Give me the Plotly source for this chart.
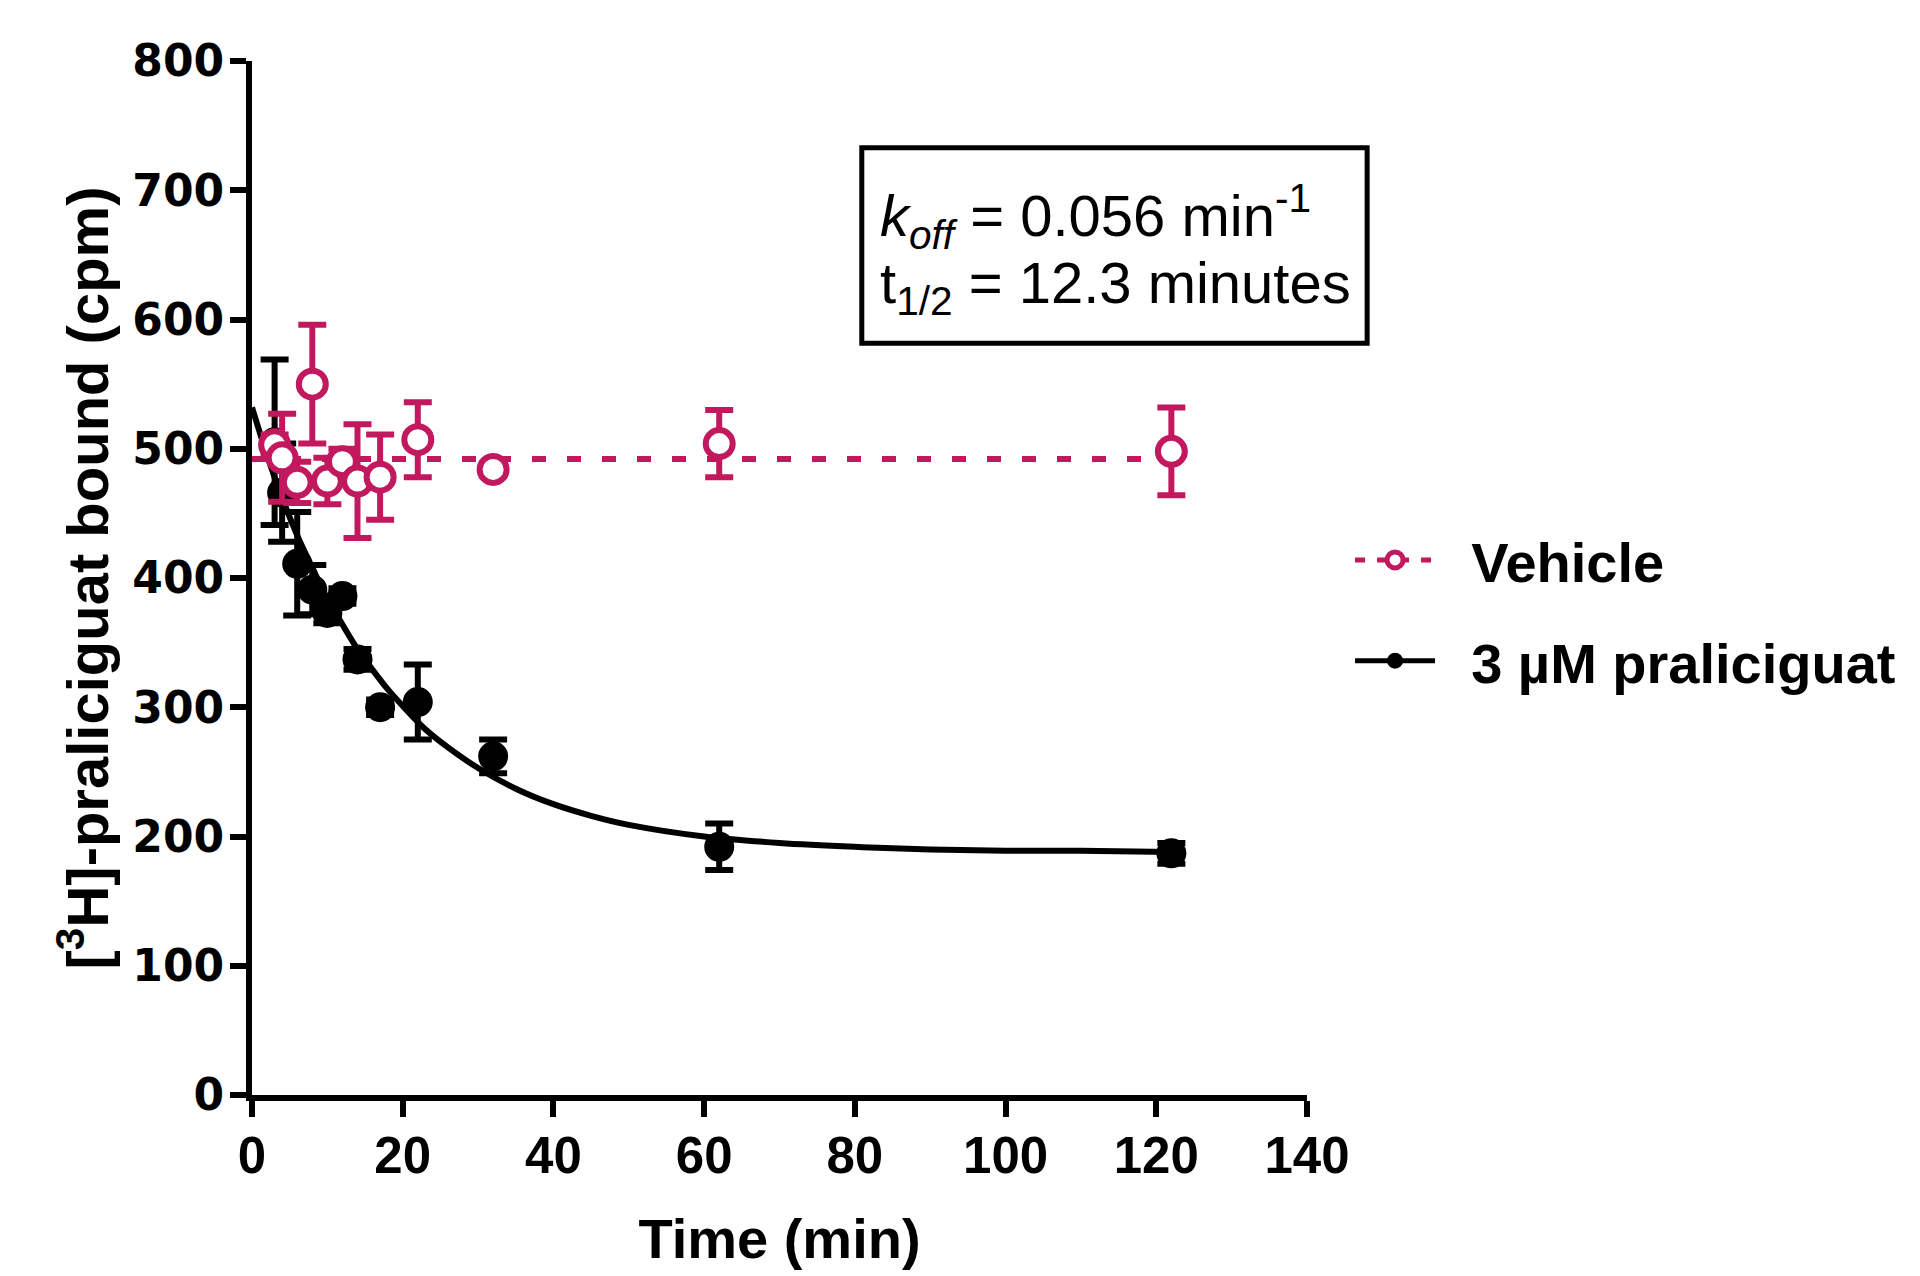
import plotly.graph_objects as go

# ---- data ----
time_min = [3, 4, 6, 8, 10, 12, 14, 17, 22, 32, 62, 122]
vehicle_mean = [503, 493, 474, 550, 475, 490, 475, 478, 507, 484, 504, 498]
vehicle_sem = [8, 34, 16, 46, 18, 10, 44, 33, 29, 5, 26, 34]
pral_mean = [505, 466, 411, 391, 373, 386, 337, 300, 304, 262, 192, 187]
pral_sem = [64, 38, 40, 19, 8, 6, 8, 6, 29, 13, 18, 8]

# fitted one-phase decay curve
fit_time = [0, 2, 4, 6, 8, 10, 12, 14, 16, 18, 20, 23, 26, 30, 35, 40, 45, 50, 60, 70, 80, 90, 100, 110, 122]
fit_pral = [532, 495, 462, 433, 408, 384, 364, 345, 329, 314, 301, 283, 269, 253, 237, 225, 216, 209, 200, 195, 192, 190, 189, 189, 188]
fit_vehicle_time = [0, 122]
fit_vehicle = [492, 492]

x_ticks = [0, 20, 40, 60, 80, 100, 120, 140]
y_ticks = [0, 100, 200, 300, 400, 500, 600, 700, 800]

PINK = "#C2195E"
BLACK = "#000000"
NB = "\u00a0"

fig = go.Figure()

# praliciguat fit
fig.add_trace(go.Scatter(x=fit_time, y=fit_pral, mode="lines", line=dict(color=BLACK, width=6, shape="spline"),
                         showlegend=False, hoverinfo="skip"))
# praliciguat points
fig.add_trace(go.Scatter(x=time_min, y=pral_mean, mode="markers",
                         marker=dict(color=BLACK, size=30, line=dict(width=0)),
                         error_y=dict(type="data", array=pral_sem, color=BLACK, thickness=6, width=14),
                         showlegend=False, cliponaxis=False))
# vehicle fit
fig.add_trace(go.Scatter(x=fit_vehicle_time, y=fit_vehicle, mode="lines",
                         line=dict(color=PINK, width=6, dash="14px,21px"),
                         showlegend=False, hoverinfo="skip"))
# vehicle points
fig.add_trace(go.Scatter(x=time_min, y=vehicle_mean, mode="markers",
                         marker=dict(color="white", size=27, line=dict(color=PINK, width=6)),
                         error_y=dict(type="data", array=vehicle_sem, color=PINK, thickness=6, width=14),
                         showlegend=False, cliponaxis=False))

# legend entries
fig.add_trace(go.Scatter(x=[None], y=[None], mode="lines+markers", name=NB + NB + "Vehicle",
                         line=dict(color=PINK, width=5, dash="10px,12px"),
                         marker=dict(color="white", size=16, line=dict(color=PINK, width=5)),
                         legendgroup="a"))
fig.add_trace(go.Scatter(x=[None], y=[None], mode="lines+markers", name=NB + NB + "3 µM praliciguat",
                         line=dict(color=BLACK, width=5),
                         marker=dict(color=BLACK, size=16),
                         legendgroup="b"))

fig.update_layout(
    width=1920, height=1276,
    margin=dict(l=244, r=621, t=53, b=189),
    paper_bgcolor="white", plot_bgcolor="white",
    font=dict(family="Liberation Sans", color="black"),
    legend=dict(x=1.0408, y=0.559, xanchor="left", yanchor="top",
                font=dict(family="Liberation Sans", size=56, color="black", weight="bold"),
                itemwidth=80, traceorder="grouped", tracegroupgap=25,
                bgcolor="rgba(0,0,0,0)"),
    xaxis=dict(range=[0, 140], tickvals=x_ticks, ticktext=[str(v) for v in x_ticks],
               showgrid=False, zeroline=False, showline=True, linecolor="black", linewidth=6,
               ticks="outside", ticklen=16, tickwidth=6, tickcolor="black", ticklabelstandoff=-5,
               tickfont=dict(family="Liberation Sans", size=51, color="black", weight="bold"),
               title=dict(text="Time (min)", standoff=38,
                          font=dict(family="Liberation Sans", size=56, color="black", weight="bold"))),
    yaxis=dict(range=[0, 800], tickvals=y_ticks, ticktext=[str(v) for v in y_ticks],
               showgrid=False, zeroline=False, showline=True, linecolor="black", linewidth=6,
               ticks="outside", ticklen=16, tickwidth=6, tickcolor="black", ticklabelstandoff=-3,
               tickfont=dict(family="DejaVu Sans", size=44, color="black", weight="bold"),
               title=dict(text="[<sup>3</sup>H]-praliciguat bound (cpm)", standoff=7,
                          font=dict(family="Liberation Sans", size=58, color="black", weight="bold"))),
)

# annotation box
fig.add_shape(type="rect", xref="paper", yref="paper", x0=0.578, x1=1.057, y0=0.727, y1=0.916,
              line=dict(color="black", width=5), fillcolor="white", layer="above")
fig.add_annotation(xref="paper", yref="paper", x=0.593, y=0.850, xanchor="left", yanchor="middle",
                   text="<i>k</i><sub><i>off</i></sub> = 0.056 min<sup>-1</sup>", showarrow=False,
                   font=dict(family="Liberation Sans", size=58, color="black"))
fig.add_annotation(xref="paper", yref="paper", x=0.593, y=0.781, xanchor="left", yanchor="middle",
                   text="t<sub>1/2</sub> = 12.3 minutes", showarrow=False,
                   font=dict(family="Liberation Sans", size=58, color="black"))

fig.write_html("out.html")
